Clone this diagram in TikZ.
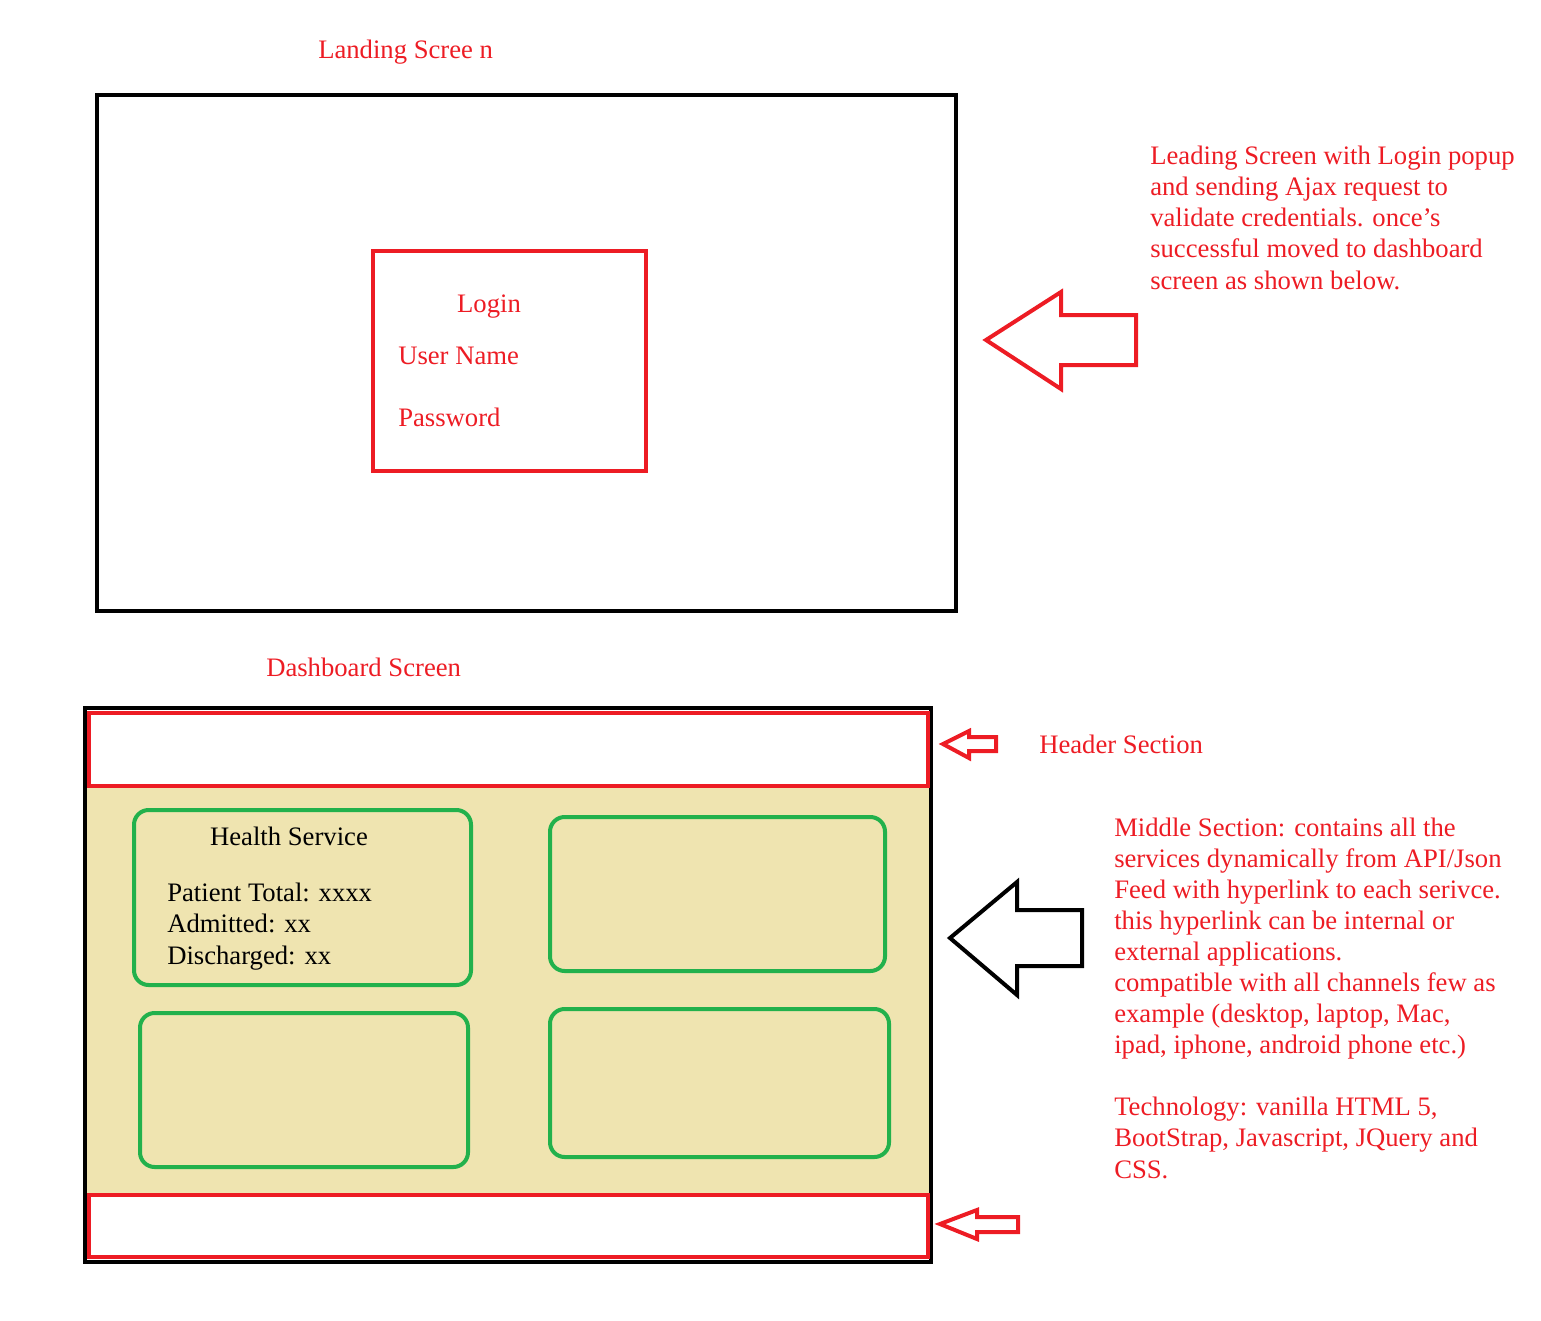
\documentclass[tikz,border=0pt]{standalone}
\usepackage{fontspec}
\setmainfont{Liberation Serif}
\definecolor{paintred}{HTML}{ED1C24}
\definecolor{paintgreen}{HTML}{22B14C}
\definecolor{painttan}{HTML}{EFE4B0}
\tikzset{
  note/.style={text=paintred, font=\fontsize{20}{23.3}\selectfont, inner sep=0pt, align=left},
  card/.style={draw=paintgreen, line width=3pt, rounded corners=11pt},
  redbox/.style={draw=paintred, line width=3.5pt},
  blockarrow/.style={line width=3pt, line join=miter}
}
\begin{document}
\begin{tikzpicture}[x=0.75pt, y=-0.75pt]
        \useasboundingbox (0,0) rectangle (1541,1320);

        \node[note, anchor=base west] (landing) at (318,59) {Landing Scree n};
        \draw[line width=3.5pt] (97,95) rectangle (956,611);
        \draw[redbox] (373,251) rectangle (646,471);
        \node[note, anchor=base] (login) at (489,312) {Login};
        \node[note, anchor=base west] (user) at (398,364) {User Name};
        \node[note, anchor=base west] (pass) at (398,426) {Password};

        \draw[blockarrow, draw=paintred] (986,340) -- (1061,292) -- (1061,315) -- (1136,315)
            -- (1136,365) -- (1061,365) -- (1061,389) -- cycle;
        \node[note, anchor=base west] (loginnote) at (1150,289)
            {Leading Screen with Login popup\\and sending Ajax request to\\validate credentials. once's\\successful moved to dashboard\\screen as shown below.};

        \node[note, anchor=base west] (dash) at (266,676) {Dashboard Screen};
        \fill[painttan] (87,787) rectangle (929,1193);
        \draw[line width=3.5pt] (85,708) rectangle (931,1262);
        \draw[redbox] (89,713) rectangle (928,786);
        \draw[redbox] (89,1195) rectangle (928,1257);

        \draw[card] (134,810) rectangle (471,985);
        \draw[card] (550,817) rectangle (885,971);
        \draw[card] (140,1013) rectangle (468,1167);
        \draw[card] (550,1009) rectangle (889,1157);
        \node[note, text=black, anchor=base] (health) at (289,845) {Health Service};
        \node[note, text=black, anchor=base west] (stats) at (167,964)
            {Patient Total: xxxx\\Admitted: xx\\Discharged: xx};

        \draw[blockarrow, draw=paintred] (943,744) -- (969,731) -- (969,737) -- (996,737)
            -- (996,751) -- (969,751) -- (969,758) -- cycle;
        \node[note, anchor=base west] (header) at (1039,753) {Header Section};

        \draw[blockarrow] (950,938) -- (1017,882) -- (1017,910) -- (1082,910)
            -- (1082,966) -- (1017,966) -- (1017,995) -- cycle;
        \node[note, anchor=base west] (middle) at (1114,1178)
            {Middle Section: contains all the\\services dynamically from API/Json\\Feed with hyperlink to each serivce.\\this hyperlink can be internal or\\external applications.\\compatible with all channels few as\\example (desktop, laptop, Mac,\\ipad, iphone, android phone etc.)\\[23.3pt]Technology: vanilla HTML 5,\\BootStrap, Javascript, JQuery and\\CSS.};

        \draw[blockarrow, draw=paintred] (940,1224) -- (977,1210) -- (977,1217) -- (1018,1217)
            -- (1018,1232) -- (977,1232) -- (977,1239) -- cycle;
\end{tikzpicture}
\end{document}
